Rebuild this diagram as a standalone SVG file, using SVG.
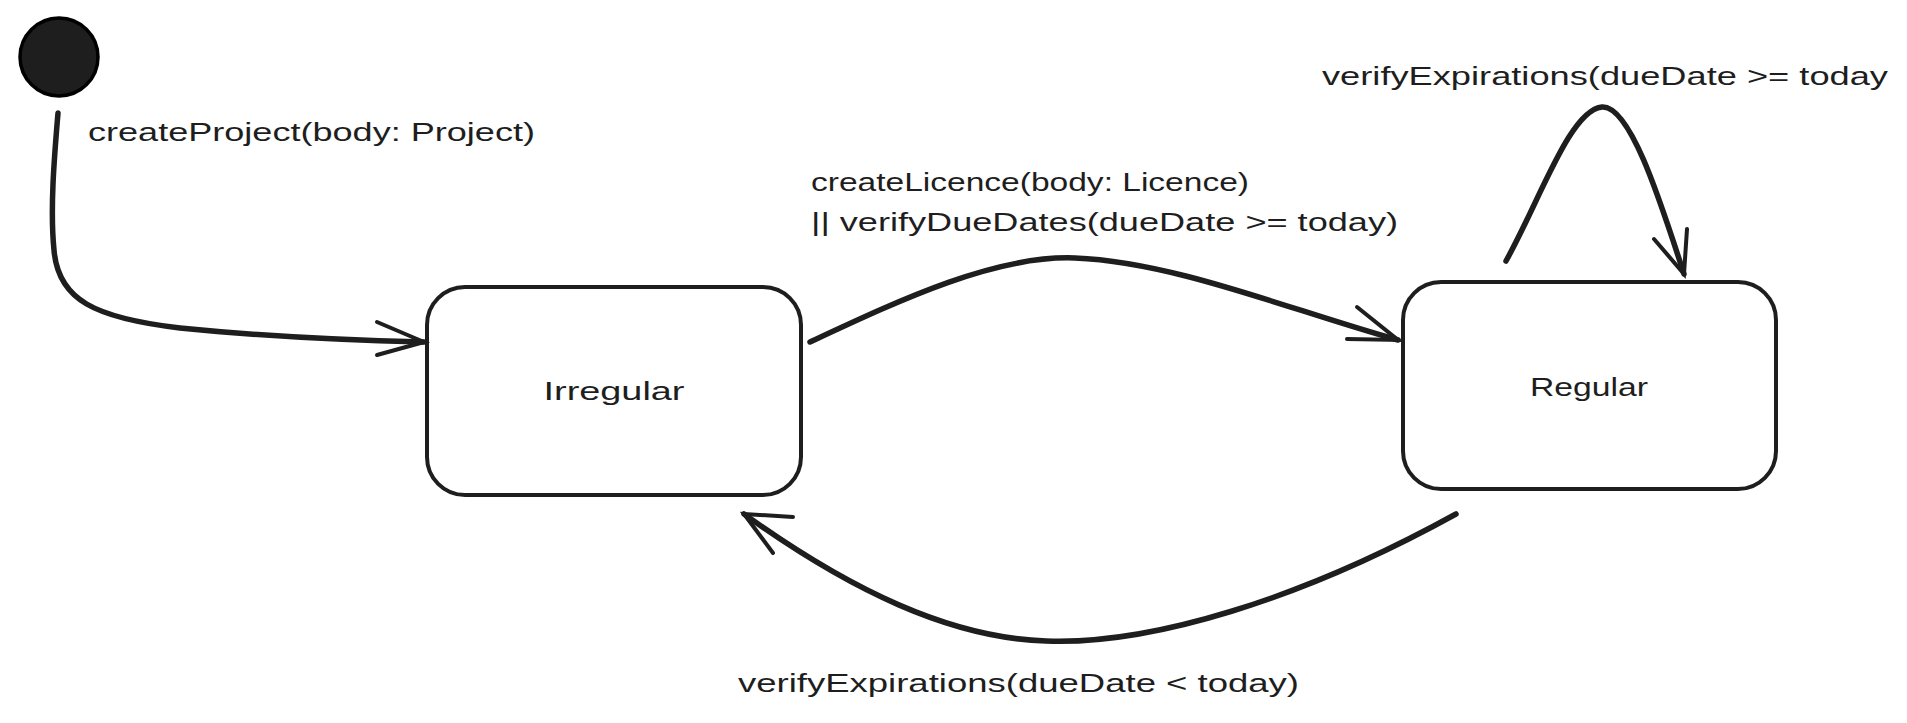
<svg xmlns="http://www.w3.org/2000/svg" width="1907" height="723" viewBox="0 0 1907 723">
<style>
.lbl{font-family:"Liberation Sans",Arial,sans-serif;font-size:26px;fill:#1e1e1e}
.node{fill:#ffffff;stroke:#1e1e1e;stroke-width:4}
.edge{fill:none;stroke:#1e1e1e;stroke-width:5.5;stroke-linecap:round;stroke-linejoin:round}
.head{fill:none;stroke:#1e1e1e;stroke-width:4;stroke-linecap:round}
</style>
<rect width="1907" height="723" fill="#ffffff"/>
<g id="start">
<circle cx="59" cy="57" r="39" fill="#1e1e1e" stroke="#000" stroke-width="3.5"/>
</g>
<g id="irregular">
<rect class="node" x="427" y="287" width="374" height="208" rx="38"/>
<text class="lbl" x="614" y="400" text-anchor="middle" textLength="141" lengthAdjust="spacingAndGlyphs">Irregular</text>
</g>
<g id="regular">
<rect class="node" x="1403" y="282" width="373" height="207" rx="38"/>
<text class="lbl" x="1589" y="396" text-anchor="middle" textLength="118" lengthAdjust="spacingAndGlyphs">Regular</text>
</g>
<g id="connectors">
<path class="edge" d="M58,113 C54,160 50,210 54,250 C58,300 95,318 180,328 C260,336 340,340 424,342"/>
<path class="head" d="M377,322 L424,342 L377,355"/>
<text class="lbl" x="88" y="141" textLength="447" lengthAdjust="spacingAndGlyphs">createProject(body: Project)</text>

<path class="edge" d="M810,342 C900,300 995,255 1075,258 C1175,262 1290,310 1398,340"/>
<path class="head" d="M1357,307 L1398,340 L1347,339"/>
<text class="lbl" x="811" y="191" textLength="438" lengthAdjust="spacingAndGlyphs">createLicence(body: Licence)</text>
<text class="lbl" x="811" y="231" textLength="587" lengthAdjust="spacingAndGlyphs">|| verifyDueDates(dueDate &gt;= today)</text>

<path class="edge" d="M1506,261 C1540,200 1570,110 1602,107 C1630,105 1660,200 1684,274"/>
<path class="head" d="M1654,239 L1684,274 L1687,229"/>
<text class="lbl" x="1322" y="85" textLength="566" lengthAdjust="spacingAndGlyphs">verifyExpirations(dueDate &gt;= today</text>

<path class="edge" d="M1456,514 C1300,600 1150,645 1046,641 C950,638 850,590 744,514"/>
<path class="head" d="M793,517 L744,514 L773,553"/>
<text class="lbl" x="738" y="692" textLength="561" lengthAdjust="spacingAndGlyphs">verifyExpirations(dueDate &lt; today)</text>
</g>
</svg>
